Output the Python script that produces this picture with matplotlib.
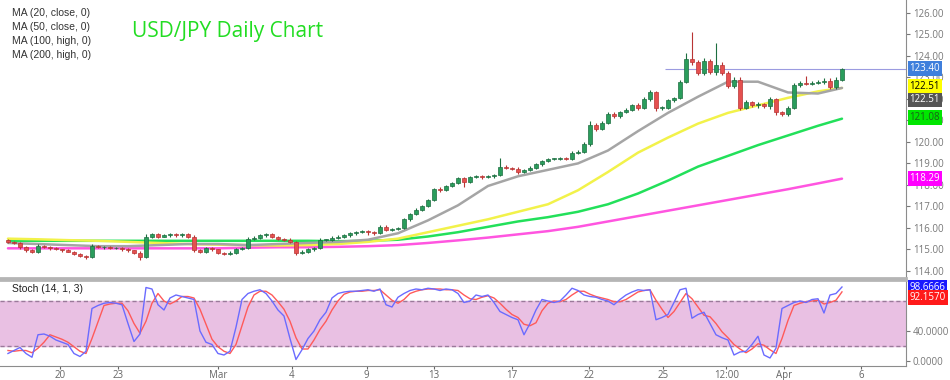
import matplotlib
matplotlib.use("Agg")
import matplotlib.pyplot as plt
from matplotlib.ticker import FormatStrFormatter

plt.rcParams['font.family'] = ['Open Sans', 'DejaVu Sans']

# --- candle data (one value per bar) ---
first_open = 115.45
closes = [
    115.35, 115.3, 115.1, 114.95, 114.9, 115.15, 115.1, 115.05, 115.0, 114.95,
    114.9, 114.8, 114.7, 114.65, 115.15, 115.1, 115.1, 115.05, 115.05, 115.0,
    114.95, 114.85, 114.65, 115.6, 115.7, 115.6, 115.65, 115.7, 115.65, 115.7,
    115.6, 114.95, 114.9, 115.05, 115.0, 114.85, 114.8, 114.85, 115.0, 115.05,
    115.5, 115.55, 115.65, 115.7, 115.6, 115.5, 115.45, 115.35, 114.85, 114.9,
    115.0, 115.05, 115.45, 115.45, 115.55, 115.6, 115.65, 115.75, 115.8, 115.85,
    115.8, 115.75, 116.05, 115.9, 115.95, 116.0, 116.4, 116.65, 116.85, 117.0,
    117.3, 117.8, 117.75, 117.95, 118.1, 118.3, 118.15, 118.35, 118.4, 118.35,
    118.4, 118.45, 118.85, 118.8, 118.75, 118.6, 118.7, 118.8, 118.95, 119.1,
    119.2, 119.2, 119.25, 119.2, 119.5, 119.55, 119.9, 120.8, 120.6, 120.9,
    121.3, 121.2, 121.4, 121.5, 121.7, 121.6, 122.0, 122.3, 121.6, 121.6,
    121.95, 122.05, 122.8, 123.85, 123.7, 123.2, 123.75, 123.25, 123.6, 123.2,
    122.6, 122.9, 121.6, 121.85, 121.7, 121.75, 121.65, 122.0, 121.4, 121.3,
    121.6, 122.65, 122.75, 122.7, 122.75, 122.8, 122.85, 122.55, 122.9, 123.4,
]
wick_hi = [
    .05, .05, .04, .06, .05, .08, .05, .04, .05, .04,
    .05, .04, .05, .06, .08, .05, .04, .05, .06, .04,
    .05, .04, .06, .10, .08, .05, .06, .05, .04, .06,
    .05, .05, .06, .05, .05, .04, .05, .06, .05, .08,
    .10, .06, .05, .06, .05, .04, .05, .06, .05, .05,
    .06, .05, .08, .05, .06, .05, .05, .06, .05, .05,
    .05, .06, .08, .10, .05, .06, .08, .05, .06, .05,
    .06, .05, .08, .06, .05, .06, .08, .05, .06, .05,
    .05, .06, .40, .06, .05, .06, .05, .06, .08, .05,
    .06, .05, .06, .05, .08, .06, .10, .15, .08, .06,
    .10, .08, .06, .08, .05, .10, .08, .10, .06, .08,
    .05, .06, .08, .30, 1.25, .10, .15, .10, 1.0, .10,
    .08, .10, .10, .08, .06, .10, .08, .10, .06, .05,
    .08, .10, .08, .30, .06, .08, .10, .12, .10, .05,
]
wick_lo = [
    .06, .05, .06, .05, .08, .05, .04, .06, .05, .05,
    .04, .06, .05, .08, .05, .05, .06, .04, .05, .06,
    .05, .06, .15, .05, .06, .05, .04, .05, .06, .05,
    .05, .08, .06, .05, .06, .05, .08, .05, .06, .05,
    .05, .04, .05, .06, .05, .06, .05, .05, .10, .06,
    .05, .06, .05, .06, .05, .05, .06, .05, .10, .06,
    .15, .06, .05, .06, .05, .06, .05, .06, .05, .06,
    .05, .06, .08, .05, .06, .05, .25, .06, .05, .06,
    .05, .06, .05, .06, .08, .10, .06, .05, .06, .05,
    .05, .06, .05, .06, .05, .06, .05, .08, .10, .06,
    .06, .10, .08, .06, .05, .10, .08, .10, .15, .10,
    .06, .08, .05, .06, .10, .08, .10, .10, .15, .10,
    .10, .10, .10, .08, .06, .10, .08, .10, .15, .10,
    .10, .06, .08, .05, .06, .08, .10, .10, .08, .05,
]

# --- moving averages, read every 5 bars ---
ma_idx = [0, 5, 10, 15, 20, 25, 30, 35, 40, 45, 50, 55, 60, 65, 70, 75, 80,
          85, 90, 95, 100, 105, 110, 115, 120, 125, 130, 135, 139]
ma20 = [115.3, 115.25, 115.2, 115.15, 115.15, 115.2, 115.25, 115.25, 115.2,
        115.25, 115.3, 115.35, 115.45, 115.75, 116.35, 117.05, 117.95, 118.4,
        118.7, 119.0, 119.6, 120.5, 121.35, 122.1, 122.8, 122.8, 122.3, 122.25,
        122.51]
ma50 = [115.5, 115.47, 115.43, 115.4, 115.35, 115.3, 115.25, 115.22, 115.2,
        115.18, 115.2, 115.25, 115.35, 115.5, 115.8, 116.1, 116.4, 116.75,
        117.1, 117.75, 118.6, 119.5, 120.2, 120.85, 121.35, 121.7, 122.05,
        122.35, 122.51]
ma100 = [115.4, 115.4, 115.4, 115.4, 115.4, 115.4, 115.4, 115.4, 115.4, 115.4,
         115.4, 115.38, 115.4, 115.45, 115.6, 115.8, 116.05, 116.3, 116.5,
         116.75, 117.1, 117.6, 118.2, 118.85, 119.35, 119.85, 120.3, 120.75,
         121.08]
ma200 = [115.05, 115.05, 115.05, 115.05, 115.05, 115.05, 115.05, 115.05,
         115.08, 115.1, 115.1, 115.12, 115.15, 115.2, 115.3, 115.42, 115.55,
         115.7, 115.85, 116.05, 116.3, 116.55, 116.8, 117.05, 117.3, 117.55,
         117.8, 118.07, 118.29]

# --- stochastic (14, 1, 3) ---
stoch_k = [
    10, 14, 18, 10, 5, 35, 36, 33, 28, 25,
    22, 10, 6, 13, 70, 74, 77, 78, 77, 75,
    50, 26, 36, 98, 96, 75, 68, 84, 88, 86,
    84, 82, 40, 25, 22, 10, 8, 13, 45, 82,
    90, 93, 95, 90, 80, 68, 60, 30, 2, 15,
    30, 40, 55, 65, 84, 90, 92, 93, 93, 94,
    95, 93, 96, 75, 72, 85, 90, 94, 96, 95,
    97, 96, 94, 96, 95, 90, 78, 80, 88, 86,
    88, 78, 66, 62, 58, 55, 35, 50, 68, 82,
    80, 78, 80, 88, 97, 94, 88, 86, 85, 82,
    80, 75, 82, 88, 92, 95, 94, 95, 55, 58,
    62, 78, 95, 97, 57, 62, 65, 50, 35, 31,
    28, 8, 12, 13, 22, 33, 8, 4, 17, 70,
    74, 78, 80, 78, 82, 83, 64, 88, 90, 98.67,
]
stoch_d = [
    14, 13, 14, 14, 11, 17, 25, 35, 32, 29,
    25, 19, 13, 10, 30, 52, 74, 76, 77, 77,
    67, 50, 37, 53, 77, 90, 80, 76, 80, 86,
    86, 84, 69, 49, 29, 19, 13, 10, 22, 47,
    72, 88, 93, 93, 88, 79, 69, 53, 31, 16,
    16, 28, 42, 53, 68, 80, 89, 92, 93, 93,
    94, 94, 95, 88, 81, 77, 82, 90, 93, 95,
    96, 96, 96, 95, 95, 94, 88, 83, 82, 85,
    87, 84, 77, 69, 62, 58, 49, 47, 51, 67,
    77, 80, 79, 82, 88, 93, 93, 89, 86, 84,
    82, 79, 79, 82, 87, 92, 94, 95, 81, 69,
    58, 66, 78, 90, 83, 72, 61, 59, 50, 39,
    31, 22, 16, 11, 16, 23, 21, 15, 10, 30,
    54, 74, 77, 79, 80, 81, 76, 78, 81, 92.16,
]

tick_at = [8.7, 18.3, 35, 47.3, 59.8, 71, 84, 96.8, 109.2, 119.7, 129.3, 142.2]
tick_labels = ['20', '23', 'Mar', '4', '9', '13', '17', '22', '25', '12:00', 'Apr', '6']
ma_labels = ['MA (20, close, 0)', 'MA (50, close, 0)', 'MA (100, high, 0)', 'MA (200, high, 0)']

opens = [first_open] + closes[:-1]
idx = list(range(len(closes)))

fig = plt.figure(figsize=(9.5, 3.8), dpi=100)
ax = fig.add_axes([0, 1 - 278 / 380, 906 / 950, 278 / 380])
axs = fig.add_axes([0, 14 / 380, 906 / 950, 86 / 380])

GREEN = '#2a9d5c'
RED = '#e5504f'

# candles
for i in idx:
    o, c = opens[i], closes[i]
    up = c >= o
    col = GREEN if up else RED
    edge = '#1d6e40' if up else '#b83434'
    hi = max(o, c) + wick_hi[i]
    lo = min(o, c) - wick_lo[i]
    ax.vlines(i, lo, hi, color=edge, lw=0.8, zorder=3)
    h = abs(c - o)
    if h < 0.03:
        h = 0.03
    ax.bar(i, h, bottom=min(o, c), width=0.7, color=col, edgecolor=edge,
           lw=0.5, zorder=4)

# moving averages
ax.plot(ma_idx, ma200, color='#ff55e0', lw=1.8, zorder=2, solid_capstyle='round')
ax.plot(ma_idx, ma100, color='#22e05a', lw=1.8, zorder=2, solid_capstyle='round')
ax.plot(ma_idx, ma50, color='#f2f24a', lw=1.8, zorder=2, solid_capstyle='round')
ax.plot(ma_idx, ma20, color='#a5a5a5', lw=1.8, zorder=2, solid_capstyle='round')

# last price line
ax.hlines(closes[-1], 109.5, 150, color='#9b9be0', lw=0.8, zorder=1)

ax.set_xlim(-1.33, 149.67)
ax.set_ylim(113.67, 126.6)
ax.yaxis.tick_right()
ax.set_yticks(range(114, 127))
ax.yaxis.set_major_formatter(FormatStrFormatter('%.2f'))
ax.tick_params(axis='y', labelsize=7, colors='#777777', length=3, pad=2)
ax.set_xticks([])
for s in ['top', 'left']:
    ax.spines[s].set_visible(False)
ax.spines['right'].set_color('#8c8c8c')
ax.spines['bottom'].set_color('#b5b5b5')
ax.spines['bottom'].set_linewidth(2)

# price tags on the right
tags = [(123.40, '123.40', '#3f7fdc', 'white'),
        (122.56, '122.51', '#ffff00', 'black'),
        (121.95, '122.51', '#555555', 'white'),
        (121.12, '121.08', '#00e600', '#1a5e1a'),
        (118.28, '118.29', '#ff00ff', 'white')]
for yv, txt, bg, fg in tags:
    ax.text(1.004, yv, txt, transform=ax.get_yaxis_transform(), fontsize=7,
            color=fg, va='center', ha='left', zorder=10,
            bbox=dict(boxstyle='square,pad=0.2', fc=bg, ec='none'))

for k, lab in enumerate(ma_labels):
    fig.text(12 / 950, 1 - (13 + 14 * k) / 380, lab, fontsize=7.5, color='#333333',
             va='center', ha='left', family=['Liberation Sans', 'DejaVu Sans'])
fig.text(132 / 950, 1 - 32 / 380, 'USD/JPY Daily Chart', fontsize=15,
         color='#22dd22', va='center', ha='left')

# stochastic panel
axs.axhspan(20, 80, color='#e9c0e3', zorder=0)
axs.axhline(80, color='#9a7a9a', lw=1, ls=(0, (3, 2)), zorder=1)
axs.axhline(20, color='#9a7a9a', lw=1, ls=(0, (3, 2)), zorder=1)
axs.plot(idx, stoch_d, color='#ff5a5a', lw=1, zorder=3)
axs.plot(idx, stoch_k, color='#6b6bff', lw=1, zorder=4)
axs.set_xlim(-1.33, 149.67)
axs.set_ylim(-6.67, 108)
axs.yaxis.tick_right()
axs.set_yticks([0, 40])
axs.yaxis.set_major_formatter(FormatStrFormatter('%.4f'))
axs.tick_params(axis='y', labelsize=7, colors='#777777', length=3, pad=2)
axs.set_xticks(tick_at)
axs.set_xticklabels(tick_labels)
axs.tick_params(axis='x', labelsize=7, colors='#666666', length=2, pad=1)
axs.spines['top'].set_color('#b5b5b5')
axs.spines['top'].set_linewidth(2)
axs.spines['left'].set_visible(False)
axs.spines['right'].set_color('#8c8c8c')
axs.spines['bottom'].set_color('#8c8c8c')
axs.text(12 / 906, 96, 'Stoch (14, 1, 3)', fontsize=7.5, color='#222222',
         va='center', ha='left', family=['Liberation Sans', 'DejaVu Sans'],
         transform=axs.get_yaxis_transform(), zorder=6)
for yv, txt, bg in [(97.5, '98.6666', '#1a1aff'), (84.5, '92.1570', '#ff1a1a')]:
    axs.text(1.004, yv, txt, transform=axs.get_yaxis_transform(), fontsize=7,
             color='white', va='center', ha='left', zorder=10,
             bbox=dict(boxstyle='square,pad=0.2', fc=bg, ec='none'))

fig.savefig('out.png', dpi=100, facecolor='white')
